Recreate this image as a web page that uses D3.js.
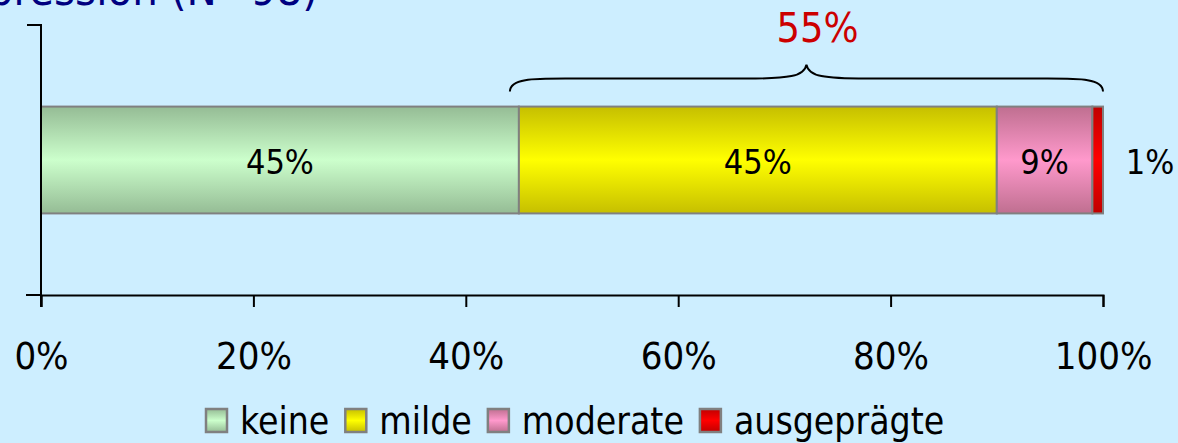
<!DOCTYPE html>
<html>
<head>
<meta charset="utf-8">
<script src="https://cdn.jsdelivr.net/npm/d3@7"></script>
<style>
  html, body { margin: 0; padding: 0; background: #cdeeff; }
  svg { display: block; }
  text { font-family: "DejaVu Sans Condensed", "DejaVu Sans", sans-serif; }
</style>
</head>
<body>
<svg id="chart" width="1178" height="443"></svg>
<script>
// Depression severity distribution (share of patients, %)
const categories = ["keine", "milde", "moderate", "ausgeprägte"];
const values = [45, 45, 9, 1];
const xTicks = [0, 20, 40, 60, 80, 100];
const rowLabel = ["Depression"];
const title = "Depression (N=98)";
// share with any symptoms: milde + moderate + ausgeprägte
const affectedShare = d3.sum(values.slice(1));

// gradient colours per category: [edge, centre]
const shades = [
  ["#95bc95", "#ccffcc"],
  ["#c6bf00", "#ffff00"],
  ["#bf6f90", "#ff99cc"],
  ["#c00000", "#ff0000"]
];

const svg = d3.select("#chart");
const W = 1178, H = 443;
const margin = { left: 41, right: 75, top: 25, bottom: 148 };

const x = d3.scaleLinear().domain([0, 100]).range([margin.left, W - margin.right]);
const y = d3.scaleBand().domain(rowLabel).range([margin.top, H - margin.bottom])
  .paddingInner(0.433).paddingOuter(0.433);

// vertical gradients (dark edges, bright centre)
const defs = svg.append("defs");
categories.forEach((c, i) => {
  const g = defs.append("linearGradient").attr("id", "grad" + i)
    .attr("x1", 0).attr("y1", 0).attr("x2", 0).attr("y2", 1);
  g.append("stop").attr("offset", "0%").attr("stop-color", shades[i][0]);
  g.append("stop").attr("offset", "50%").attr("stop-color", shades[i][1]);
  g.append("stop").attr("offset", "100%").attr("stop-color", shades[i][0]);
});

// title (runs off the top edge)
svg.append("text")
  .attr("x", 318).attr("y", 5)
  .attr("text-anchor", "end")
  .attr("font-size", 45)
  .attr("fill", "#000080")
  .text(title);

// stacked segments
const stack = [];
let acc = 0;
values.forEach((v, i) => { stack.push({ cat: categories[i], v, x0: acc, x1: acc + v, i }); acc += v; });

const row = rowLabel[0];
svg.append("g").selectAll("rect").data(stack).join("rect")
  .attr("x", d => x(d.x0))
  .attr("y", y(row))
  .attr("width", d => x(d.x1) - x(d.x0))
  .attr("height", y.bandwidth())
  .attr("fill", d => `url(#grad${d.i})`)
  .attr("stroke", "#808080")
  .attr("stroke-width", 2);

// value labels (small segments labelled outside the bar)
const cy = y(row) + y.bandwidth() / 2;
svg.append("g").selectAll("text").data(stack).join("text")
  .attr("x", d => d.v < 3 ? x(d.x1) + 47 : (x(d.x0) + x(d.x1)) / 2)
  .attr("y", cy + 13.5)
  .attr("text-anchor", "middle")
  .attr("font-size", 34)
  .attr("fill", "#000")
  .text(d => d.v + "%");

// x axis
const xAxis = svg.append("g")
  .attr("transform", `translate(0,${H - margin.bottom})`)
  .call(d3.axisBottom(x).tickValues(xTicks).tickSize(12).tickPadding(35).tickFormat(d => d + "%"));
xAxis.select(".domain").attr("stroke", "#000").attr("stroke-width", 2);
xAxis.selectAll(".tick line").attr("stroke", "#000").attr("stroke-width", 2);
xAxis.selectAll(".tick text")
  .attr("font-size", 38)
  .attr("fill", "#000")
  .style("font-family", '"DejaVu Sans Condensed", "DejaVu Sans", sans-serif');

// y axis (category axis with boundary ticks)
const yAx = svg.append("g");
yAx.append("line")
  .attr("x1", margin.left).attr("x2", margin.left)
  .attr("y1", margin.top - 1).attr("y2", H - margin.bottom + 12)
  .attr("stroke", "#000").attr("stroke-width", 2);
[margin.top, H - margin.bottom].forEach((ty, k) => {
  yAx.append("line")
    .attr("x1", margin.left - (k === 0 ? 14 : 15)).attr("x2", margin.left)
    .attr("y1", ty).attr("y2", ty)
    .attr("stroke", "#000").attr("stroke-width", 2);
});

// brace over the affected share
const L = x(100 - affectedShare) - 9, R = x(100), M = (L + R) / 2;
const yEnd = y(row) - 15, yFlat = y(row) - 28, yTip = y(row) - 42;
const brace = d3.path();
brace.moveTo(L, yEnd);
brace.bezierCurveTo(L, yFlat - 1, L + 25, yFlat, L + 65, yFlat);
brace.lineTo(M - 60, yFlat);
brace.bezierCurveTo(M - 18, yFlat, M - 2, yFlat - 2, M, yTip);
brace.bezierCurveTo(M + 2, yFlat - 2, M + 18, yFlat, M + 60, yFlat);
brace.lineTo(R - 65, yFlat);
brace.bezierCurveTo(R - 25, yFlat, R, yFlat - 1, R, yEnd);
svg.append("path").attr("d", brace.toString())
  .attr("fill", "none").attr("stroke", "#000").attr("stroke-width", 2);

svg.append("text")
  .attr("x", M + 11).attr("y", 42)
  .attr("text-anchor", "middle")
  .attr("font-size", 41)
  .attr("fill", "#cc0000")
  .text(affectedShare + "%");

// legend
const legend = svg.append("g");
const items = legend.selectAll("g").data(categories).join("g");
items.append("rect")
  .attr("x", 1).attr("width", 21).attr("height", 23)
  .attr("y", -25)
  .attr("fill", (d, i) => `url(#grad${i})`)
  .attr("stroke", "#808080").attr("stroke-width", 2.5);
items.append("text")
  .attr("x", 35).attr("y", 0)
  .attr("font-size", 37)
  .attr("fill", "#000")
  .text(d => d);
let lx = 0;
items.each(function () {
  d3.select(this).attr("transform", `translate(${lx},0)`);
  lx += this.getBBox().width + 16;
});
legend.attr("transform", `translate(205,434)`);
</script>
</body>
</html>
